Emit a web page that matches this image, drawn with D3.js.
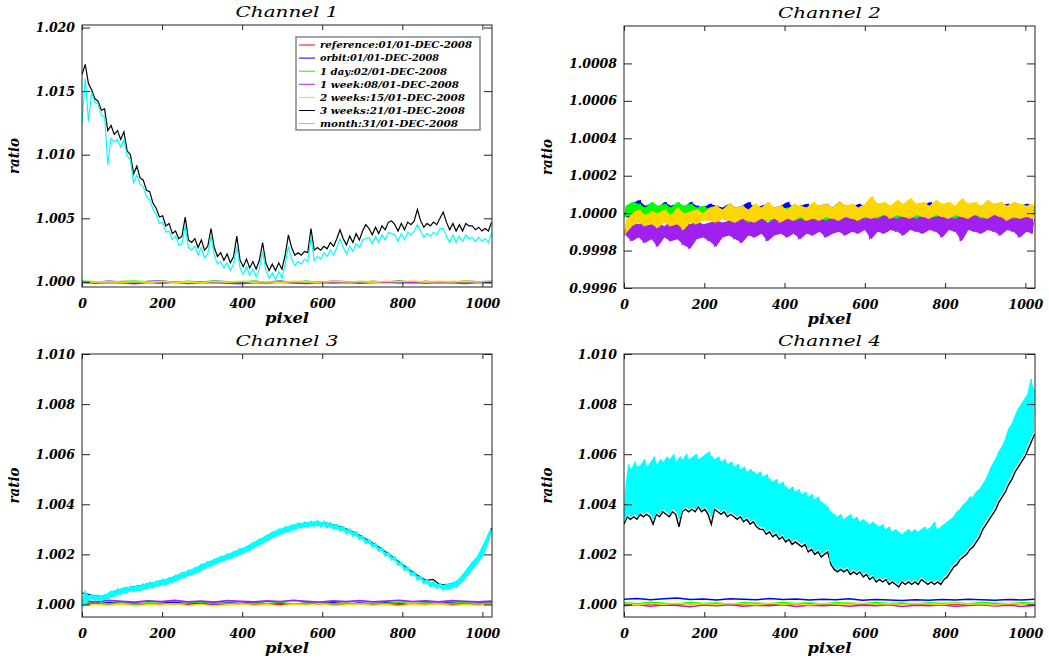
<!DOCTYPE html>
<html><head><meta charset="utf-8">
<script src="https://cdn.jsdelivr.net/npm/d3@7"></script>
<style>
html,body{margin:0;padding:0;background:#fff;}
svg{display:block;}
text{font-family:"DejaVu Serif",serif;font-style:italic;font-weight:bold;fill:#000;}
</style></head><body>
<svg id="chart" width="1049" height="659"></svg>
<script>
// ---------------- DATA ----------------
const channelTitles = ["Channel 1", "Channel 2", "Channel 3", "Channel 4"];
const xLabel = "pixel";
const yLabel = "ratio";
const xTicks = [0, 200, 400, 600, 800, 1000];
const yTicksCh1 = [1.000, 1.005, 1.010, 1.015, 1.020];
const yTicksCh2 = [0.9996, 0.9998, 1.0000, 1.0002, 1.0004, 1.0006, 1.0008];
const yTicksCh34 = [1.000, 1.002, 1.004, 1.006, 1.008, 1.010];
const legendLabels = ["reference:01/01-DEC-2008","orbit:01/01-DEC-2008","1 day:02/01-DEC-2008",
  "1 week:08/01-DEC-2008","2 weeks:15/01-DEC-2008","3 weeks:21/01-DEC-2008","month:31/01-DEC-2008"];

// Channel 1
const p1Red = [1,1,1,1,1,1,1,1,1,1,1,1,1,1,1,1];
const p1Blue = [1.00004,0.99997,1.00006,1.00000,0.99995,1.00003,1.00007,0.99998,1.00002,0.99996,1.00005,1.00001,0.99997,1.00004,1.00000,1.00006,0.99998,1.00003,0.99996,1.00005,1.00001,0.99997,1.00004,0.99999,1.00006,0.99998,1.00003,1.00000,0.99996,1.00005,1.00001,1.00003];
const p1Green = [1.00006,1.00001,0.99997,1.00004,1.00008,0.99999,1.00003,0.99996,1.00005,1.00000,1.00007,0.99998,1.00002,1.00005,0.99997,1.00003,1.00000,1.00006,0.99998,1.00002,0.99996,1.00004,1.00001,0.99997,1.00005,0.99999,1.00002,0.99996,1.00004,1.00000,0.99998,1.00003];
const p1Purple = [0.99994,0.99989,0.99996,0.99991,0.99986,0.99995,0.99990,0.99997,0.99988,0.99993,0.99996,0.99990,0.99985,0.99994,0.99991,0.99997,0.99992,0.99988,0.99995,0.99991,0.99996,0.99989,0.99994,0.99998,0.99991,0.99995,0.99990,0.99996,0.99993,0.99988,0.99995,0.99992];
const p1Gold = [0.99991,0.99998,1.00002,0.99995,1.00001,0.99996,1.00004,0.99997,1.00000,0.99994,1.00003,0.99998,1.00005,0.99997,1.00001,0.99995,1.00004,1.00000,0.99997,1.00006,0.99999,1.00003,0.99996,1.00005,1.00001,1.00007,0.99998,1.00004,1.00000,1.00006,0.99999,1.00003];
const p1Black = [1.0163,1.0171,1.0156,1.0151,1.0144,1.0142,1.0135,1.0136,1.0119,1.0123,
1.0116,1.0119,1.0112,1.0118,1.0103,1.0100,1.0085,1.0091,1.0082,1.0080,
1.0072,1.0071,1.0062,1.0058,1.0051,1.0052,1.0044,1.0046,1.0038,1.0040,
1.0034,1.0036,1.0051,1.0033,1.0031,1.0034,1.0027,1.0033,1.0025,1.0028,
1.0042,1.0027,1.0020,1.0023,1.0017,1.0022,1.0015,1.0020,1.0036,1.0017,
1.0012,1.0018,1.0011,1.0016,1.0010,1.0017,1.0031,1.0015,1.0009,1.0014,
1.0009,1.0015,1.0010,1.0021,1.0037,1.0027,1.0021,1.0023,1.0021,1.0024,
1.0023,1.0042,1.0025,1.0027,1.0025,1.0028,1.0026,1.0031,1.0028,1.0034,
1.0041,1.0034,1.0029,1.0036,1.0031,1.0038,1.0033,1.0040,1.0045,1.0042,
1.0037,1.0043,1.0038,1.0044,1.0041,1.0047,1.0048,1.0045,1.0040,1.0046,
1.0041,1.0047,1.0045,1.0048,1.0057,1.0048,1.0043,1.0046,1.0044,1.0047,
1.0045,1.0050,1.0055,1.0047,1.0041,1.0046,1.0040,1.0045,1.0040,1.0046,
1.0044,1.0044,1.0041,1.0043,1.0040,1.0042,1.0040,1.0047];
const p1Cyan = [1.0125,1.0160,1.0126,1.0149,1.0141,1.0140,1.0131,1.0130,1.0092,1.0113,
1.0110,1.0112,1.0106,1.0112,1.0099,1.0096,1.0078,1.0084,1.0077,1.0075,
1.0067,1.0065,1.0057,1.0053,1.0046,1.0047,1.0039,1.0040,1.0033,1.0036,
1.0029,1.0030,1.0044,1.0027,1.0025,1.0028,1.0021,1.0027,1.0019,1.0022,
1.0036,1.0021,1.0014,1.0016,1.0011,1.0015,1.0009,1.0014,1.0028,1.0011,
1.0006,1.0012,1.0005,1.0010,1.0004,1.0010,1.0024,1.0009,1.0003,1.0007,
1.0002,1.0008,1.0003,1.0014,1.0028,1.0018,1.0013,1.0016,1.0014,1.0018,
1.0016,1.0035,1.0017,1.0020,1.0018,1.0023,1.0020,1.0025,1.0021,1.0027,
1.0034,1.0027,1.0022,1.0028,1.0024,1.0030,1.0027,1.0033,1.0034,1.0035,
1.0030,1.0036,1.0031,1.0037,1.0033,1.0039,1.0038,1.0037,1.0032,1.0038,
1.0033,1.0039,1.0037,1.0040,1.0045,1.0040,1.0035,1.0038,1.0036,1.0039,
1.0037,1.0042,1.0042,1.0036,1.0031,1.0037,1.0031,1.0036,1.0032,1.0037,
1.0034,1.0035,1.0032,1.0035,1.0032,1.0034,1.0031,1.0039];

// Channel 2 (consecutive low/high readings of each noisy trace)
const p2Red = [1,1,1,1,1,1,1,1,1,1,1,1,1,1,1,1];
const p2Blue = [0.99998,1.00003,0.99997,1.00005,0.99999,1.00007,0.99997,1.00004,0.99998,1.00005,0.99996,1.00003,0.99998,1.00006,0.99997,1.00004,
0.99999,1.00005,0.99997,1.00003,0.99998,1.00006,0.99996,1.00004,0.99998,1.00003,0.99997,1.00005,0.99999,1.00004,0.99997,1.00003,
0.99996,1.00005,0.99998,1.00003,0.99997,1.00004,0.99999,1.00006,0.99997,1.00003,0.99998,1.00004,0.99996,1.00005,0.99998,1.00003,
0.99997,1.00004,0.99999,1.00006,0.99997,1.00003,0.99998,1.00004,0.99996,1.00005,0.99998,1.00003,0.99997,1.00004,0.99999,1.00005,
0.99997,1.00003,0.99998,1.00006,0.99996,1.00004,0.99998,1.00003,0.99997,1.00005,0.99999,1.00004,0.99997,1.00003,0.99998,1.00005,
0.99996,1.00004,0.99998,1.00003,0.99997,1.00005,0.99999,1.00004,0.99997,1.00003,0.99998,1.00005,0.99996,1.00004,0.99998,1.00006,
0.99997,1.00003,0.99999,1.00004,0.99997,1.00005,0.99998,1.00003,0.99996,1.00004,0.99998,1.00005,0.99997,1.00003,0.99999,1.00004,
0.99997,1.00005,0.99998,1.00003,0.99996,1.00004,0.99998,1.00005,0.99997,1.00003,0.99999,1.00004,0.99997,1.00005,0.99998,1.00004];
const p2Green = [0.99998,1.00004,0.99999,1.00006,0.99997,1.00005,0.99999,1.00003,0.99998,1.00006,0.99997,1.00004,0.99999,1.00005,0.99998,1.00003,
0.99997,1.00006,0.99999,1.00004,0.99997,1.00005,0.99998,1.00003,0.99996,1.00004,0.99997,1.00002,0.99995,1.00003,0.99997,1.00002,
0.99996,1.00004,0.99995,1.00002,0.99997,1.00003,0.99995,1.00001,0.99996,1.00003,0.99994,1.00002,0.99996,1.00003,0.99995,1.00001,
0.99997,1.00002,0.99995,1.00003,0.99996,1.00001,0.99994,1.00002,0.99996,1.00003,0.99995,1.00001,0.99996,1.00002,0.99994,1.00003,
0.99996,1.00001,0.99995,1.00002,0.99996,1.00003,0.99994,1.00001,0.99995,1.00002,0.99996,1.00003,0.99994,1.00001,0.99995,1.00002,
0.99996,1.00003,0.99994,1.00001,0.99995,1.00002,0.99993,1.00001,0.99995,1.00003,0.99994,1.00001,0.99996,1.00002,0.99994,1.00001,
0.99995,1.00003,0.99993,1.00001,0.99995,1.00002,0.99994,1.00001,0.99996,1.00003,0.99994,1.00001,0.99995,1.00002,0.99993,1.00001,
0.99995,1.00002,0.99994,1.00003,0.99995,1.00001,0.99994,1.00002,0.99996,1.00001,0.99994,1.00002,0.99995,1.00001,0.99994,1.00002];
const p2Purple = [0.99988,0.99994,0.99985,0.99995,0.99987,0.99994,0.99984,0.99996,0.99986,0.99994,0.99982,0.99995,0.99987,0.99993,0.99985,0.99996,
0.99986,0.99994,0.99983,0.99995,0.99981,0.99994,0.99986,0.99996,0.99987,0.99994,0.99985,0.99995,0.99982,0.99996,0.99987,0.99995,
0.99988,0.99996,0.99986,0.99995,0.99984,0.99997,0.99988,0.99995,0.99987,0.99996,0.99989,0.99997,0.99985,0.99995,0.99988,0.99997,
0.99989,0.99996,0.99987,0.99998,0.99989,0.99996,0.99986,0.99997,0.99989,0.99996,0.99988,0.99998,0.99990,0.99997,0.99987,0.99996,
0.99989,0.99998,0.99990,0.99997,0.99988,0.99998,0.99990,0.99997,0.99989,0.99999,0.99991,0.99997,0.99986,0.99998,0.99990,0.99997,
0.99989,0.99999,0.99991,0.99998,0.99990,0.99997,0.99988,0.99999,0.99991,0.99998,0.99990,0.99997,0.99989,0.99999,0.99991,0.99998,
0.99990,0.99998,0.99987,0.99999,0.99991,0.99998,0.99990,0.99997,0.99985,0.99999,0.99991,0.99998,0.99990,0.99999,0.99989,0.99997,
0.99991,0.99998,0.99990,0.99999,0.99988,0.99998,0.99991,0.99999,0.99990,0.99997,0.99987,0.99998,0.99990,0.99999,0.99989,0.99997];
const p2Gold = [0.99989,0.99996,0.99993,1.00000,0.99995,1.00002,0.99993,0.99999,0.99994,1.00001,0.99992,1.00000,0.99995,1.00002,0.99993,0.99999,
0.99994,1.00003,0.99991,1.00000,0.99995,1.00001,0.99994,1.00002,0.99996,1.00000,0.99996,1.00003,0.99995,1.00004,0.99997,1.00002,
0.99996,1.00005,0.99995,1.00003,0.99997,1.00004,0.99996,1.00002,0.99995,1.00005,0.99997,1.00003,0.99996,1.00006,0.99997,1.00003,
0.99995,1.00004,0.99997,1.00002,0.99996,1.00005,0.99998,1.00004,0.99996,1.00003,0.99997,1.00006,0.99996,1.00004,0.99998,1.00005,
0.99997,1.00003,0.99996,1.00006,0.99998,1.00004,0.99997,1.00005,0.99996,1.00003,0.99998,1.00005,0.99997,1.00009,0.99998,1.00005,
0.99999,1.00006,0.99997,1.00004,0.99999,1.00007,0.99998,1.00005,0.99997,1.00008,0.99999,1.00005,0.99998,1.00006,0.99997,1.00004,
0.99999,1.00007,0.99998,1.00005,0.99997,1.00006,0.99999,1.00004,0.99998,1.00008,0.99997,1.00005,0.99999,1.00006,0.99998,1.00004,
0.99997,1.00007,0.99999,1.00005,0.99998,1.00006,0.99996,1.00004,0.99998,1.00006,0.99997,1.00005,0.99998,1.00004,0.99997,1.00005];

// Channel 3
const p3Red = [1,1,1,1,1,1,1,1,1,1,1,1,1,1,1,1];
const p3Blue = [1.00006,1.00002,1.00008,1.00004,1.00007,1.00001,1.00005,1.00009,1.00003,1.00006,1.00002,1.00007,1.00004,1.00008,1.00003,1.00005,1.00001,1.00006,1.00004,1.00008,1.00002,1.00006,1.00003,1.00007,1.00005,1.00002,1.00006,1.00004,1.00008,1.00003,1.00005,1.00006];
const p3Green = [1.00004,1.00008,1.00003,1.00006,1.00001,1.00007,1.00004,1.00002,1.00006,1.00009,1.00003,1.00005,1.00001,1.00006,1.00004,1.00008,1.00002,1.00005,1.00007,1.00003,1.00006,1.00001,1.00005,1.00004,1.00008,1.00003,1.00006,1.00002,1.00005,1.00007,1.00003,1.00005];
const p3Purple = [1.00015,1.00010,1.00016,1.00012,1.00009,1.00014,1.00011,1.00016,1.00010,1.00013,1.00009,1.00015,1.00012,1.00010,1.00014,1.00011,1.00016,1.00012,1.00009,1.00014,1.00011,1.00015,1.00010,1.00013,1.00016,1.00011,1.00014,1.00010,1.00015,1.00012,1.00010,1.00013];
const p3Gold = [0.99996,1.00001,0.99997,1.00002,0.99995,1.00000,0.99998,1.00003,0.99996,1.00001,0.99994,0.99999,1.00002,0.99997,1.00000,0.99995,1.00001,0.99998,1.00003,0.99996,0.99999,1.00002,0.99997,1.00000,0.99995,1.00001,0.99998,1.00002,0.99996,1.00000,0.99997,1.00001];
const p3Black = [1.00045,1.00040,1.00033,1.00032,1.00040,1.00053,1.00060,1.00066,1.00070,1.00075,
1.00081,1.00086,1.00093,1.00098,1.00108,1.00119,1.00128,1.00138,1.00148,1.00163,
1.00173,1.00183,1.00193,1.00203,1.00213,1.00223,1.00238,1.00251,1.00265,1.00280,
1.00291,1.00301,1.00309,1.00316,1.00322,1.00325,1.00328,1.00327,1.00323,1.00316,
1.00308,1.00298,1.00286,1.00271,1.00256,1.00240,1.00223,1.00205,1.00186,1.00166,
1.00146,1.00127,1.00110,1.00096,1.00100,1.00080,1.00078,1.00083,1.00098,1.00128,
1.00163,1.00193,1.00243,1.00305];
const p3Cyan = [0.99992,1.00047,1.00021,1.00037,1.00017,1.00035,1.00016,1.00035,1.00023,1.00050,
1.00036,1.00059,1.00043,1.00066,1.00050,1.00070,1.00053,1.00073,1.00057,1.00079,
1.00064,1.00086,1.00069,1.00091,1.00076,1.00098,1.00081,1.00104,1.00090,1.00114,
1.00101,1.00125,1.00111,1.00134,1.00120,1.00144,1.00131,1.00158,1.00146,1.00169,
1.00155,1.00179,1.00166,1.00190,1.00176,1.00199,1.00185,1.00209,1.00196,1.00220,
1.00206,1.00229,1.00218,1.00244,1.00233,1.00258,1.00246,1.00271,1.00260,1.00286,
1.00274,1.00298,1.00284,1.00307,1.00292,1.00315,1.00301,1.00323,1.00307,1.00327,
1.00310,1.00330,1.00313,1.00332,1.00312,1.00329,1.00308,1.00324,1.00303,1.00318,
1.00295,1.00309,1.00285,1.00299,1.00275,1.00288,1.00261,1.00272,1.00245,1.00257,
1.00231,1.00242,1.00215,1.00224,1.00196,1.00206,1.00179,1.00188,1.00159,1.00167,
1.00138,1.00147,1.00119,1.00129,1.00101,1.00111,1.00085,1.00097,1.00073,1.00088,
1.00066,1.00081,1.00060,1.00079,1.00063,1.00085,1.00071,1.00099,1.00095,1.00129,
1.00129,1.00165,1.00161,1.00194,1.00195,1.00244,1.00261,1.00300];

// Channel 4
const p4Red = [1,1,1,1,1,1,1,1,1,1,1,1,1,1,1,1];
const p4Blue = [1.00021,1.00024,1.00019,1.00023,1.00026,1.00020,1.00022,1.00018,1.00023,1.00021,1.00019,1.00024,1.00020,1.00022,1.00018,1.00021,1.00019,1.00023,1.00017,1.00020,1.00018,1.00016,1.00019,1.00017,1.00020,1.00018,1.00021,1.00019,1.00017,1.00020,1.00018,1.00021];
const p4Green = [1.00007,1.00003,1.00009,1.00005,1.00002,1.00008,1.00004,1.00006,1.00001,1.00007,1.00005,1.00003,1.00008,1.00004,1.00006,1.00002,1.00007,1.00005,1.00003,1.00008,1.00004,1.00006,1.00002,1.00007,1.00004,1.00006,1.00003,1.00008,1.00005,1.00003,1.00007,1.00005];
const p4Purple = [0.99995,0.99999,0.99993,0.99998,0.99996,0.99991,0.99998,0.99995,0.99999,0.99993,0.99997,0.99995,0.99999,0.99992,0.99997,0.99995,0.99998,0.99993,0.99997,0.99995,0.99999,0.99992,0.99997,0.99995,0.99998,0.99993,0.99996,0.99999,0.99994,0.99997,0.99992,0.99996];
const p4Gold = [1.00003,0.99999,1.00004,1.00001,1.00005,0.99998,1.00003,1.00000,1.00004,1.00002,0.99999,1.00005,1.00001,1.00003,0.99998,1.00004,1.00002,1.00000,1.00005,1.00001,1.00003,0.99999,1.00004,1.00002,1.00000,1.00005,1.00001,1.00003,0.99998,1.00004,1.00001,1.00003];
const p4Black = [1.0032,1.0035,1.0034,1.0035,1.0034,1.0036,1.0035,1.0036,1.0035,1.0032,
1.0036,1.0035,1.0037,1.0036,1.0035,1.0037,1.0036,1.0031,1.0037,1.0038,
1.0037,1.0038,1.0037,1.0039,1.0037,1.0038,1.0036,1.0032,1.0038,1.0037,
1.0036,1.0037,1.0035,1.0036,1.0035,1.0034,1.0035,1.0033,1.0034,1.0032,
1.0033,1.0031,1.0030,1.0030,1.0028,1.0029,1.0027,1.0028,1.0026,1.0027,
1.0025,1.0026,1.0024,1.0025,1.0024,1.0023,1.0024,1.0021,1.0022,1.0020,
1.0021,1.0019,1.0020,1.0021,1.0016,1.0014,1.0013,1.0014,1.0013,1.0014,
1.0012,1.0013,1.0012,1.0013,1.0011,1.0012,1.0010,1.0011,1.0009,1.0010,
1.0009,1.0010,1.0008,1.0009,1.0008,1.0007,1.0009,1.0008,1.0009,1.0008,
1.0009,1.0008,1.0010,1.0009,1.0008,1.0009,1.0008,1.0009,1.0008,1.0010,
1.0011,1.0013,1.0015,1.0016,1.0018,1.0019,1.0020,1.0022,1.0023,1.0025,
1.0027,1.0030,1.0032,1.0034,1.0036,1.0038,1.0041,1.0043,1.0045,1.0048,
1.0050,1.0053,1.0055,1.0057,1.0059,1.0062,1.0065,1.0068];
const p4CyanLow = [1.0033,1.0036,1.0035,1.0036,1.0035,1.0037,1.0036,1.0037,1.0036,1.0034,
1.0037,1.0036,1.0038,1.0037,1.0036,1.0038,1.0037,1.0034,1.0038,1.0039,
1.0038,1.0039,1.0038,1.0040,1.0038,1.0039,1.0037,1.0035,1.0039,1.0038,
1.0037,1.0038,1.0036,1.0037,1.0036,1.0035,1.0036,1.0034,1.0035,1.0033,
1.0034,1.0032,1.0031,1.0031,1.0029,1.0030,1.0028,1.0029,1.0027,1.0028,
1.0026,1.0027,1.0025,1.0026,1.0025,1.0024,1.0025,1.0022,1.0023,1.0021,
1.0022,1.0020,1.0021,1.0022,1.0017,1.0015,1.0014,1.0015,1.0014,1.0015,
1.0013,1.0014,1.0013,1.0014,1.0012,1.0013,1.0011,1.0012,1.0010,1.0011,
1.0010,1.0011,1.0009,1.0010,1.0009,1.0008,1.0010,1.0009,1.0010,1.0009,
1.0010,1.0009,1.0011,1.0010,1.0009,1.0010,1.0009,1.0010,1.0009,1.0011,
1.0012,1.0014,1.0016,1.0017,1.0019,1.0020,1.0021,1.0023,1.0024,1.0026,
1.0028,1.0031,1.0033,1.0035,1.0037,1.0039,1.0042,1.0044,1.0046,1.0049,
1.0051,1.0054,1.0056,1.0058,1.0060,1.0063,1.0066,1.0069];
const p4CyanHigh = [1.0045,1.0056,1.0054,1.0057,1.0055,1.0056,1.0058,1.0055,1.0057,1.0059,
1.0056,1.0058,1.0057,1.0059,1.0058,1.0060,1.0057,1.0059,1.0058,1.0060,
1.0058,1.0059,1.0060,1.0058,1.0059,1.0060,1.0061,1.0059,1.0058,1.0059,
1.0057,1.0058,1.0056,1.0057,1.0055,1.0056,1.0054,1.0055,1.0053,1.0054,
1.0053,1.0052,1.0053,1.0051,1.0052,1.0050,1.0049,1.0050,1.0048,1.0049,
1.0047,1.0046,1.0047,1.0045,1.0046,1.0044,1.0045,1.0043,1.0044,1.0042,
1.0043,1.0041,1.0040,1.0039,1.0037,1.0036,1.0035,1.0036,1.0034,1.0035,
1.0036,1.0034,1.0035,1.0033,1.0034,1.0033,1.0032,1.0033,1.0032,1.0031,
1.0032,1.0030,1.0031,1.0029,1.0030,1.0029,1.0028,1.0029,1.0030,1.0029,
1.0030,1.0029,1.0030,1.0031,1.0030,1.0031,1.0033,1.0030,1.0031,1.0032,
1.0033,1.0034,1.0035,1.0037,1.0038,1.0040,1.0041,1.0043,1.0043,1.0045,
1.0046,1.0048,1.0050,1.0053,1.0056,1.0058,1.0061,1.0063,1.0066,1.0070,
1.0072,1.0075,1.0078,1.0080,1.0082,1.0084,1.0090,1.0086];

// ---------------- STYLE / LAYOUT ----------------
const seriesColors = ["#ff0000","#0000ff","#00ff00","#a020f0","#ffd700","#000000","#00ffff"];
const legendTextWidths = [152, 119, 127, 139, 145, 145, 138];
const xDomain = [0, 1024];
const pixelMax = 1023;

// interleave min/max readings of the month curve (channel 4) into one trace
const p4Cyan = [];
p4CyanLow.forEach((v, i) => { p4Cyan.push(v, p4CyanHigh[i]); });

const F = false, T = true;
const panels = [
  {title: channelTitles[0], box:{l:82,r:492,t:25,b:287}, yDomain:[0.9996,1.0202], yTicks:yTicksCh1, fmt:".3f",
   series:[p1Red,p1Blue,p1Green,p1Purple,p1Gold,p1Black,p1Cyan], widths:[1,1.5,1.5,1.5,1.6,1.2,1.2],
   band:[F,F,F,F,F,F,F], legend:true},
  {title: channelTitles[1], box:{l:624,r:1035,t:26,b:288}, yDomain:[0.9996,1.0010], yTicks:yTicksCh2, fmt:".4f",
   series:[p2Red,p2Blue,p2Green,p2Purple,p2Gold,null,null], widths:[1,1,1,1,1,1,1],
   band:[F,T,T,T,T,F,F]},
  {title: channelTitles[2], box:{l:82,r:492,t:354,b:617}, yDomain:[0.9995,1.0100], yTicks:yTicksCh34, fmt:".3f",
   series:[p3Red,p3Blue,p3Green,p3Purple,p3Gold,p3Black,p3Cyan], widths:[1,1.5,1.5,1.8,1.6,1.2,2.2],
   band:[F,F,F,F,F,F,T]},
  {title: channelTitles[3], box:{l:624,r:1035,t:354,b:617}, yDomain:[0.9995,1.0100], yTicks:yTicksCh34, fmt:".3f",
   series:[p4Red,p4Blue,p4Green,p4Purple,p4Gold,p4Black,p4Cyan], widths:[1,1.6,1.4,1.4,1.6,1.4,1],
   band:[F,F,F,F,F,F,T]}
];

const svg = d3.select("#chart");
svg.append("rect").attr("width",1049).attr("height",659).attr("fill","#fff");

panels.forEach((p, pi) => {
  const b = p.box;
  const x = d3.scaleLinear().domain(xDomain).range([b.l, b.r]);
  const y = d3.scaleLinear().domain(p.yDomain).range([b.b, b.t]);
  const g = svg.append("g");
  const clipId = "clip" + pi;
  g.append("clipPath").attr("id", clipId).append("rect")
    .attr("x", b.l).attr("y", b.t).attr("width", b.r - b.l).attr("height", b.b - b.t);
  const dataG = g.append("g").attr("clip-path", `url(#${clipId})`);
  const line = d3.line().x(d => x(d[0])).y(d => y(d[1]));
  p.series.forEach((vals, k) => {
    if (!vals) return;
    const n = vals.length;
    const pts = vals.map((v, i) => [i * pixelMax / (n - 1), v]);
    if (p.band[k]) {
      // dense noisy trace: fill between consecutive low/high readings
      const pairs = [];
      for (let i = 0; i + 1 < n; i += 2) pairs.push([(pts[i][0] + pts[i + 1][0]) / 2, vals[i], vals[i + 1]]);
      const area = d3.area().x(d => x(d[0])).y0(d => y(d[1])).y1(d => y(d[2]));
      dataG.append("path").attr("d", area(pairs)).attr("fill", seriesColors[k]).attr("stroke","none");
    }
    dataG.append("path").attr("d", line(pts)).attr("fill","none")
      .attr("stroke", seriesColors[k]).attr("stroke-width", p.widths[k])
      .attr("stroke-linejoin","miter");
  });

  // axes
  const axG = g.append("g");
  const bottom = axG.append("g").attr("transform",`translate(0,${b.b})`)
    .call(d3.axisBottom(x).tickValues(xTicks).tickSizeInner(-5).tickSizeOuter(0).tickPadding(12).tickFormat(d3.format("d")));
  const top = axG.append("g").attr("transform",`translate(0,${b.t})`)
    .call(d3.axisTop(x).tickValues(xTicks).tickSizeInner(-5).tickSizeOuter(0).tickFormat(""));
  const left = axG.append("g").attr("transform",`translate(${b.l},0)`)
    .call(d3.axisLeft(y).tickValues(p.yTicks).tickSizeInner(-8).tickSizeOuter(0).tickPadding(7).tickFormat(d3.format(p.fmt)));
  const right = axG.append("g").attr("transform",`translate(${b.r},0)`)
    .call(d3.axisRight(y).tickValues(p.yTicks).tickSizeInner(-8).tickSizeOuter(0).tickFormat(""));
  [bottom, top, left, right].forEach(a => {
    a.select(".domain").remove();
    a.selectAll("line").attr("stroke","#222");
    a.selectAll("text").style("font-family",'"DejaVu Serif",serif').style("font-style","italic")
      .style("font-weight","bold").style("font-size","12.5px").attr("fill","#000");
  });
  axG.append("rect").attr("x", b.l).attr("y", b.t).attr("width", b.r - b.l).attr("height", b.b - b.t)
    .attr("fill","none").attr("stroke","#222").attr("stroke-width",1);

  // title
  svg.append("text").attr("x", (b.l + b.r) / 2).attr("y", b.t - 8).attr("text-anchor","middle")
    .style("font-weight","normal").style("font-size","15px")
    .attr("textLength", 103).attr("lengthAdjust","spacingAndGlyphs")
    .text(p.title.replace(" ", "  "));
  // x label
  svg.append("text").attr("x", (b.l + b.r) / 2).attr("y", b.b + 36).attr("text-anchor","middle")
    .style("font-size","15px").attr("textLength", 44).attr("lengthAdjust","spacingAndGlyphs").text(xLabel);
  // y label
  const yl = pi % 2 === 0 ? 19 : 552;
  svg.append("text").attr("transform",`translate(${yl},${(b.t + b.b) / 2}) rotate(-90)`).attr("text-anchor","middle")
    .style("font-size","15px").attr("textLength", 36).attr("lengthAdjust","spacingAndGlyphs").text(yLabel);

  if (p.legend) {
    const lg = svg.append("g");
    lg.append("rect").attr("x", 296).attr("y", 37).attr("width", 184).attr("height", 93)
      .attr("fill","#fff").attr("stroke","#888").attr("stroke-width",1.5);
    legendLabels.forEach((lab, i) => {
      const yy = 45 + i * 13.1;
      lg.append("line").attr("x1", 299).attr("x2", 315).attr("y1", yy).attr("y2", yy)
        .attr("stroke", seriesColors[i]).attr("stroke-width", 1);
      lg.append("text").attr("x", 320).attr("y", yy + 3.3).style("font-size","9.5px")
        .attr("textLength", legendTextWidths[i]).attr("lengthAdjust","spacingAndGlyphs").text(lab);
    });
  }
});
</script>
</body></html>
